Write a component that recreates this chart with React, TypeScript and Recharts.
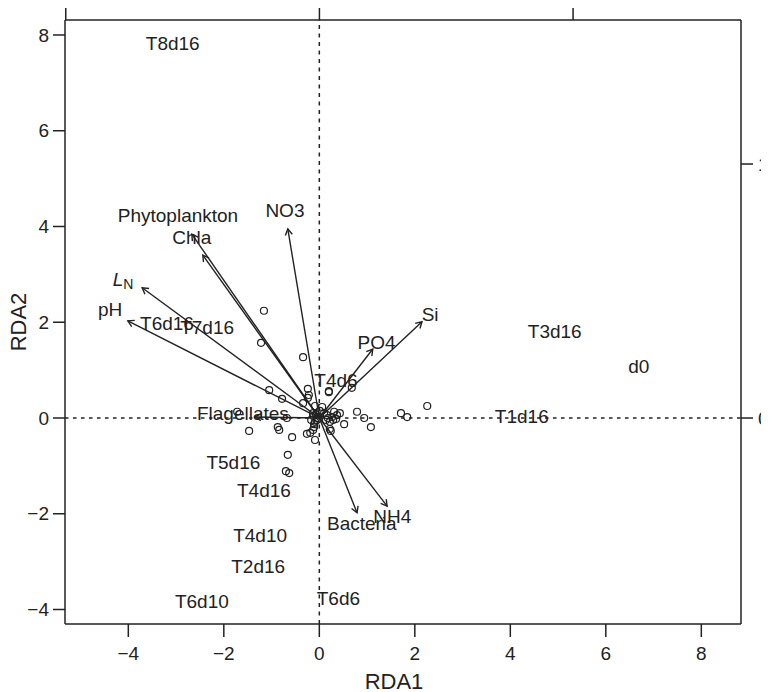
import React from 'react';
import { ScatterChart, Scatter, XAxis, YAxis, ReferenceLine } from 'recharts';

// axis ticks
const mainTicks = [-4, -2, 0, 2, 4, 6, 8];
const topTicks = [-1, 0, 1];
const rightTicks = [0, 1];

// species scores (open circles)
const speciesPoints = [
  { x: -1.16, y: 2.24 }, { x: -1.22, y: 1.57 }, { x: -0.34, y: 1.27 }, { x: -1.05, y: 0.58 },
  { x: -0.78, y: 0.4 }, { x: -0.24, y: 0.61 }, { x: -0.22, y: 0.48 }, { x: -0.24, y: 0.42 },
  { x: -0.34, y: 0.31 }, { x: -0.09, y: 0.25 }, { x: 0.06, y: 0.23 }, { x: 0.2, y: 0.54 },
  { x: 0.2, y: 0.56 }, { x: 0.68, y: 0.63 }, { x: -1.72, y: 0.13 }, { x: -1.47, y: -0.27 },
  { x: -0.87, y: -0.19 }, { x: -0.84, y: -0.25 }, { x: -0.57, y: -0.4 }, { x: -0.26, y: -0.33 },
  { x: -0.13, y: -0.25 }, { x: -0.09, y: -0.46 }, { x: -0.11, y: -0.13 }, { x: -0.11, y: -0.19 },
  { x: -0.19, y: -0.31 }, { x: 0.22, y: -0.23 }, { x: 0.24, y: -0.27 }, { x: 0.43, y: 0.1 },
  { x: 0.52, y: -0.13 }, { x: 0.79, y: 0.13 }, { x: 0.94, y: 0.0 }, { x: 1.08, y: -0.19 },
  { x: 0.31, y: 0.13 }, { x: 0.37, y: 0.06 }, { x: 0.27, y: 0.02 }, { x: 0.18, y: 0.0 },
  { x: 0.22, y: -0.08 }, { x: 0.29, y: -0.04 }, { x: 0.16, y: 0.06 }, { x: 0.1, y: 0.1 },
  { x: 0.14, y: -0.04 }, { x: 0.35, y: -0.02 }, { x: -0.66, y: -0.77 }, { x: -0.7, y: -1.11 },
  { x: -0.63, y: -1.15 }, { x: 1.71, y: 0.1 }, { x: 1.84, y: 0.02 }, { x: 2.26, y: 0.25 },
  { x: -0.07, y: 0.08 }, { x: -0.03, y: 0.0 }, { x: -0.13, y: 0.04 }, { x: -0.05, y: -0.04 },
  { x: 0.01, y: 0.15 }, { x: -0.68, y: 0.0 }, { x: -0.13, y: 0.1 }, { x: -0.17, y: -0.04 },
  { x: -0.09, y: -0.08 },
];

// text labels (sites and variable names), positioned at their centre
const textLabels = [
  { name: 'T8d16', x: -3.07, y: 7.83 },
  { name: 'Phytoplankton', x: -2.96, y: 4.22 },
  { name: 'NO3', x: -0.72, y: 4.34 },
  { name: 'Chla', x: -2.67, y: 3.76 },
  { name: 'LN', x: -4.11, y: 2.9 },
  { name: 'pH', x: -4.38, y: 2.26 },
  { name: 'T6d16', x: -3.19, y: 1.98 },
  { name: 'T7d16', x: -2.35, y: 1.88 },
  { name: 'PO4', x: 1.2, y: 1.57 },
  { name: 'Si', x: 2.32, y: 2.17 },
  { name: 'T3d16', x: 4.93, y: 1.8 },
  { name: 'd0', x: 6.69, y: 1.07 },
  { name: 'T1d16', x: 4.24, y: 0.04 },
  { name: 'T4d6', x: 0.35, y: 0.79 },
  { name: 'Flagellates', x: -1.6, y: 0.1 },
  { name: 'T5d16', x: -1.8, y: -0.92 },
  { name: 'T4d16', x: -1.16, y: -1.52 },
  { name: 'Bacteria', x: 0.89, y: -2.21 },
  { name: 'NH4', x: 1.53, y: -2.05 },
  { name: 'T4d10', x: -1.24, y: -2.46 },
  { name: 'T2d16', x: -1.28, y: -3.11 },
  { name: 'T6d10', x: -2.46, y: -3.84 },
  { name: 'T6d6', x: 0.4, y: -3.76 },
];

// environmental vectors, from the origin to the tip
const vectorTips = [
  { name: 'NO3', x: -0.66, y: 3.95 },
  { name: 'Phytoplankton', x: -2.67, y: 3.84 },
  { name: 'Chla', x: -2.44, y: 3.4 },
  { name: 'LN', x: -3.71, y: 2.72 },
  { name: 'pH', x: -4.01, y: 2.03 },
  { name: 'PO4', x: 1.12, y: 1.44 },
  { name: 'Si', x: 2.15, y: 2.01 },
  { name: 'Flagellates', x: -1.35, y: 0.02 },
  { name: 'Bacteria', x: 0.79, y: -1.98 },
  { name: 'NH4', x: 1.42, y: -1.84 },
];

const INK = '#222';
const minus = (v: number) => String(v).replace('-', '\u2212');

const Arrow = (props: any) => {
  const { x1, y1, x2, y2 } = props;
  const a = Math.atan2(y2 - y1, x2 - x1);
  const len = 7;
  const w = Math.PI / 6;
  const ax = x2 - len * Math.cos(a - w);
  const ay = y2 - len * Math.sin(a - w);
  const bx = x2 - len * Math.cos(a + w);
  const by = y2 - len * Math.sin(a + w);
  return (
    <g stroke={INK} strokeWidth={1.4} fill="none">
      <line x1={x1} y1={y1} x2={x2} y2={y2} />
      <path d={`M${ax},${ay}L${x2},${y2}L${bx},${by}`} />
    </g>
  );
};

const Circle = (props: any) => (
  <circle cx={props.cx} cy={props.cy} r={3.5} fill="none" stroke={INK} strokeWidth={1.2} />
);

const Label = (props: any) => {
  const { cx, cy, payload } = props;
  if (payload.name === 'LN') {
    return (
      <text x={cx} y={cy} textAnchor="middle" dominantBaseline="central" fontSize={19} fill={INK}>
        <tspan fontStyle="italic">L</tspan>
        <tspan fontSize={14} dy={5}>N</tspan>
      </text>
    );
  }
  return (
    <text x={cx} y={cy} textAnchor="middle" dominantBaseline="central" fontSize={19} fill={INK}>
      {payload.name}
    </text>
  );
};

const lineStyle = { stroke: INK, strokeWidth: 1.5 };
const tickStyle = { fontSize: 19, fill: INK };

export default function App() {
  return (
    <div style={{ fontFamily: '"Liberation Sans", Arial, sans-serif' }}>
      <style>{'html,body{overflow:hidden}'}</style>
      <ScatterChart width={761} height={684} margin={{ top: 0, right: 0, bottom: 0, left: 0 }}>
        <XAxis
          xAxisId="main"
          type="number"
          dataKey="x"
          domain={[-5.326, 8.831]}
          allowDataOverflow
          ticks={mainTicks}
          interval={0}
          height={68}
          tickSize={13}
          tickMargin={10}
          axisLine={lineStyle}
          tickLine={lineStyle}
          tick={tickStyle}
          tickFormatter={minus}
          label={{ value: 'RDA1', position: 'insideBottom', offset: 3, dx: -9, fontSize: 22, fill: INK }}
        />
        <XAxis
          xAxisId="top"
          orientation="top"
          type="number"
          dataKey="x"
          domain={[-1.003, 1.662]}
          allowDataOverflow
          ticks={topTicks}
          interval={0}
          height={12}
          tickSize={12}
          tickMargin={4}
          axisLine={lineStyle}
          tickLine={lineStyle}
          tick={tickStyle}
          tickFormatter={() => ''}
        />
        <YAxis
          yAxisId="main"
          type="number"
          dataKey="y"
          domain={[-4.303, 8.313]}
          allowDataOverflow
          ticks={mainTicks}
          interval={0}
          width={57}
          tickSize={12}
          tickMargin={4}
          axisLine={lineStyle}
          tickLine={lineStyle}
          tick={tickStyle}
          tickFormatter={minus}
          label={{
            value: 'RDA2',
            position: 'insideLeft',
            angle: -90,
            offset: 10,
            fontSize: 22,
            fill: INK,
            style: { textAnchor: 'middle' },
          }}
        />
        <YAxis
          yAxisId="right"
          orientation="right"
          type="number"
          dataKey="y"
          domain={[-0.811, 1.567]}
          allowDataOverflow
          ticks={rightTicks}
          interval={0}
          width={28}
          tickSize={12}
          tickMargin={5}
          axisLine={lineStyle}
          tickLine={lineStyle}
          tick={tickStyle}
        />
        <ReferenceLine xAxisId="main" yAxisId="main" x={0} stroke={INK} strokeWidth={1.5} strokeDasharray="4 4.5" />
        <ReferenceLine xAxisId="main" yAxisId="main" y={0} stroke={INK} strokeWidth={1.5} strokeDasharray="3.5 4.5" />
        {vectorTips.map((v) => (
          <ReferenceLine
            key={v.name}
            xAxisId="main"
            yAxisId="main"
            segment={[{ x: 0, y: 0 }, { x: v.x, y: v.y }]}
            shape={Arrow}
          />
        ))}
        <Scatter
          xAxisId="main"
          yAxisId="main"
          data={speciesPoints}
          shape={Circle}
          isAnimationActive={false}
        />
        <Scatter
          xAxisId="main"
          yAxisId="main"
          data={textLabels}
          shape={Label}
          isAnimationActive={false}
        />
      </ScatterChart>
    </div>
  );
}
